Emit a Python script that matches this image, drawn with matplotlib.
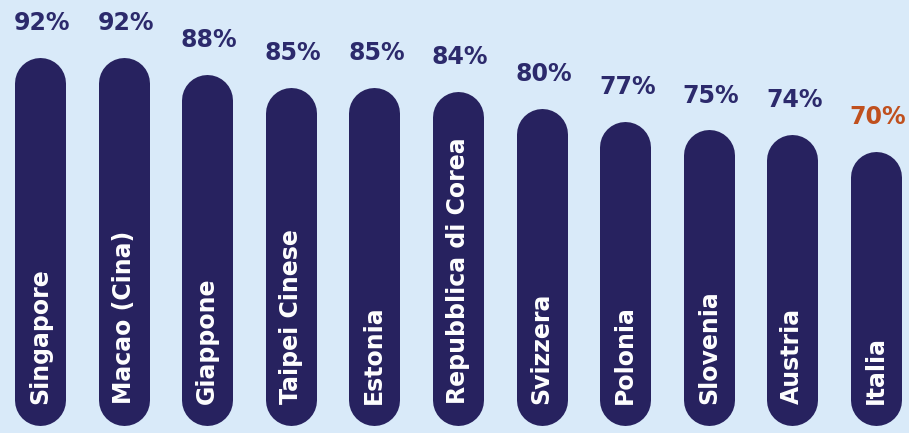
import matplotlib
matplotlib.use("Agg")
import matplotlib.pyplot as plt

countries = ["Singapore", "Macao (Cina)", "Giappone", "Taipei Cinese", "Estonia",
             "Repubblica di Corea", "Svizzera", "Polonia", "Slovenia", "Austria", "Italia"]
values = [92, 92, 88, 85, 85, 84, 80, 77, 75, 74, 70]
highlight = "Italia"

W, H, DPI = 909, 433, 100
fig = plt.figure(figsize=(W / DPI, H / DPI), dpi=DPI)
bg = "#d9eaf9"
fig.patch.set_facecolor(bg)
ax = fig.add_axes([0, 0, 1, 1])
ax.set_facecolor(bg)

x0, x1 = -0.478, 10.395
y0, y1 = 4.13, 105.35
base = 5.9
ax.set_xlim(x0, x1)
ax.set_ylim(y0, y1)
ax.axis("off")

yu_per_px = (y1 - y0) / H
bar_px = 51
r_y = (bar_px / 2) * yu_per_px
lw_pt = bar_px * 72 / DPI
bar_col = "#27225f"
for i, (c, v) in enumerate(zip(countries, values)):
    ax.plot([i, i], [base + r_y, v - r_y], color=bar_col, lw=lw_pt,
            solid_capstyle="round")
    col = "#c0501e" if c == highlight else "#2c2a6c"
    ax.annotate(f"{v}%", (i, v), xytext=(1.5, 16), textcoords="offset points",
                ha="center", va="bottom", fontsize=17, fontweight="bold", color=col)
    ax.text(i, base + 5.0, c, rotation=90, ha="center", va="bottom", fontsize=17,
            fontweight="bold", color="white")

fig.savefig("out.png", dpi=DPI, facecolor=bg)
